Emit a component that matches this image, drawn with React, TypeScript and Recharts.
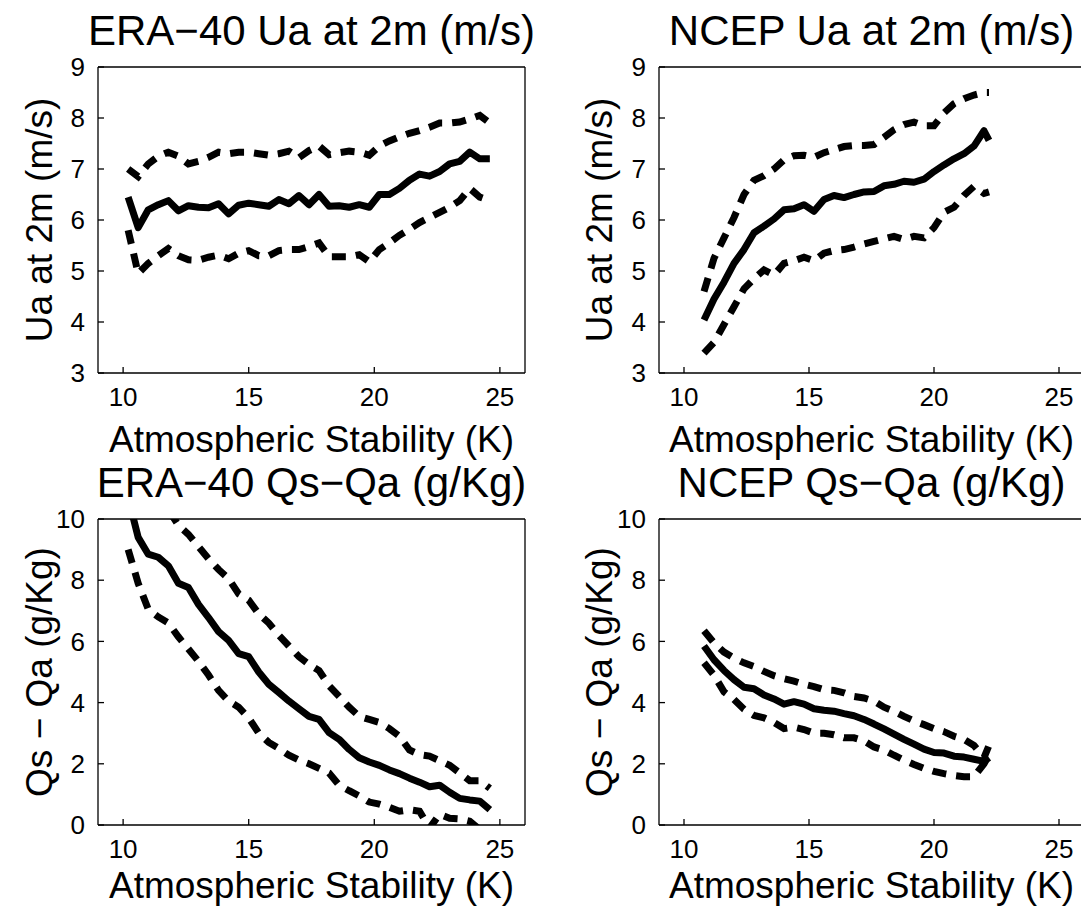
import React from 'react';
import { LineChart, Line, XAxis, YAxis, Label } from 'recharts';

const FONT = '"Liberation Sans", Arial, Helvetica, sans-serif';

// atmospheric stability bins (K)
const eraStability = [
  10.2, 10.6, 11.0, 11.4, 11.8, 12.2, 12.6, 13.0, 13.4, 13.8, 14.2, 14.6, 15.0,
  15.4, 15.8, 16.2, 16.6, 17.0, 17.4, 17.8, 18.2, 18.6, 19.0, 19.4, 19.8, 20.2,
  20.6, 21.0, 21.4, 21.8, 22.2, 22.6, 23.0, 23.4, 23.8, 24.2, 24.6,
];
const ncepStability = [
  10.8, 11.2, 11.6, 12.0, 12.4, 12.8, 13.2, 13.6, 14.0, 14.4, 14.8, 15.2, 15.6,
  16.0, 16.4, 16.8, 17.2, 17.6, 18.0, 18.4, 18.8, 19.2, 19.6, 20.0, 20.4, 20.8,
  21.2, 21.6, 22.0, 22.2,
];

// ERA-40 Ua at 2m (m/s)
const eraUaMean = [
  6.45, 5.85, 6.2, 6.3, 6.38, 6.18, 6.28, 6.25, 6.24, 6.32, 6.12, 6.29, 6.33,
  6.3, 6.27, 6.4, 6.32, 6.48, 6.3, 6.5, 6.27, 6.28, 6.25, 6.3, 6.25, 6.5,
  6.5, 6.62, 6.78, 6.9, 6.86, 6.95, 7.1, 7.15, 7.33, 7.2, 7.2,
];
const eraUaUpper = [
  7.0, 6.85, 7.1, 7.25, 7.33, 7.25, 7.1, 7.15, 7.23, 7.33, 7.3, 7.33, 7.33,
  7.3, 7.27, 7.3, 7.35, 7.22, 7.36, 7.45, 7.28, 7.32, 7.35, 7.33, 7.27, 7.45,
  7.55, 7.63, 7.7, 7.75, 7.82, 7.9, 7.9, 7.92, 7.98, 8.05, 7.9,
];
const eraUaLower = [
  5.8, 4.95, 5.15, 5.3, 5.44, 5.3, 5.22, 5.21, 5.27, 5.31, 5.24, 5.35, 5.4,
  5.3, 5.3, 5.4, 5.42, 5.42, 5.48, 5.55, 5.28, 5.28, 5.28, 5.32, 5.18, 5.42,
  5.55, 5.7, 5.82, 5.95, 6.05, 6.15, 6.25, 6.38, 6.62, 6.45, 6.38,
];

// NCEP Ua at 2m (m/s)
const ncepUaMean = [
  4.04, 4.45, 4.78, 5.15, 5.42, 5.75, 5.88, 6.02, 6.2, 6.22, 6.3, 6.17, 6.4,
  6.48, 6.44, 6.5, 6.55, 6.56, 6.67, 6.7, 6.76, 6.74, 6.8, 6.95, 7.08, 7.2,
  7.3, 7.45, 7.75, 7.56,
];
const ncepUaUpper = [
  4.6, 5.25, 5.65, 6.05, 6.5, 6.78, 6.87, 7.0, 7.18, 7.26, 7.27, 7.23, 7.32,
  7.38, 7.44, 7.46, 7.46, 7.48, 7.62, 7.77, 7.87, 7.92, 7.85, 7.85, 8.1, 8.28,
  8.38, 8.45, 8.5, 8.5,
];
const ncepUaLower = [
  3.39, 3.6, 3.95, 4.3, 4.65, 4.85, 5.02, 4.92, 5.15, 5.2, 5.27, 5.2, 5.35,
  5.4, 5.42, 5.47, 5.53, 5.58, 5.63, 5.68, 5.62, 5.68, 5.65, 5.85, 6.15, 6.25,
  6.48, 6.66, 6.52, 6.55,
];

// ERA-40 Qs-Qa (g/Kg)
const eraQMean = [
  10.7, 9.4, 8.85, 8.75, 8.47, 7.9, 7.76, 7.21, 6.78, 6.32, 6.03, 5.6, 5.5,
  5.0, 4.6, 4.33, 4.05, 3.8, 3.55, 3.45, 3.02, 2.8, 2.47, 2.2, 2.06, 1.95,
  1.8, 1.68, 1.53, 1.4, 1.25, 1.3, 1.07, 0.87, 0.82, 0.78, 0.5,
];
const eraQUpper = [
  12.2, 11.7, 11.2, 10.8, 10.3, 9.8, 9.5, 9.1, 8.7, 8.35, 8.05, 7.55, 7.35,
  6.9, 6.6, 6.2, 5.85, 5.5, 5.25, 5.05, 4.55, 4.2, 3.85, 3.55, 3.45, 3.35,
  3.15, 2.9, 2.45, 2.3, 2.25, 2.1, 1.95, 1.7, 1.45, 1.45, 1.2,
];
const eraQLower = [
  9.0, 7.9, 7.05, 6.8, 6.6, 6.15, 5.75, 5.35, 4.9, 4.4, 4.05, 3.85, 3.5,
  3.0, 2.7, 2.5, 2.28, 2.12, 2.0, 1.85, 1.7, 1.3, 1.12, 0.95, 0.75, 0.68,
  0.58, 0.45, 0.5, 0.45, -0.1, 0.35, 0.22, 0.2, 0.12, -0.15, -0.3,
];

// NCEP Qs-Qa (g/Kg)
const ncepQMean = [
  5.85, 5.4, 5.05, 4.75, 4.5, 4.45, 4.25, 4.12, 3.95, 4.03, 3.95, 3.8, 3.75,
  3.72, 3.64, 3.57, 3.45, 3.3, 3.14, 2.97, 2.8, 2.64, 2.48, 2.37, 2.35, 2.25,
  2.22, 2.15, 2.08, 2.2,
];
const ncepQUpper = [
  6.35, 5.95, 5.65, 5.45, 5.3, 5.18, 5.02, 4.88, 4.78, 4.7, 4.6, 4.52, 4.42,
  4.4, 4.32, 4.2, 4.15, 4.05, 3.85, 3.72, 3.55, 3.4, 3.28, 3.15, 3.05, 2.9,
  2.8, 2.6, 2.2, 2.6,
];
const ncepQLower = [
  5.3, 4.9, 4.35, 4.1, 3.78, 3.58, 3.5, 3.35, 3.15, 3.2, 3.12, 3.0, 3.0,
  2.95, 2.85, 2.85, 2.75, 2.55, 2.45, 2.28, 2.12, 1.98, 1.85, 1.75, 1.68, 1.62,
  1.58, 1.58, 2.0, 2.3,
];

const stabilityTicks = [10, 15, 20, 25];
const uaTicks = [3, 4, 5, 6, 7, 8, 9];
const qTicks = [0, 2, 4, 6, 8, 10];

const tickStyle = { fontSize: 26, fill: '#000', fontFamily: FONT };
const frame = { stroke: '#000', strokeWidth: 1.3 };

const titleContent = (text: string) => (props: any) => {
  const vb = props.viewBox || {};
  return (
    <text x={vb.x + vb.width / 2} y={vb.y + vb.height - 22} textAnchor="middle"
      fontSize={42} fontFamily={FONT} fill="#000">{text}</text>
  );
};

const xLabelContent = (text: string, offset: number) => (props: any) => {
  const vb = props.viewBox || {};
  return (
    <text x={vb.x + vb.width / 2} y={vb.y + offset} textAnchor="middle"
      fontSize={37} fontFamily={FONT} fill="#000">{text}</text>
  );
};

const yLabelContent = (text: string) => (props: any) => {
  const vb = props.viewBox || {};
  const cx = vb.x + 52;
  const cy = vb.y + vb.height / 2;
  return (
    <text x={cx} y={cy} transform={`rotate(-90 ${cx} ${cy})`} textAnchor="middle"
      fontSize={37} fontFamily={FONT} fill="#000">{text}</text>
  );
};

interface PanelProps {
  title: string;
  yLabel: string;
  x: number[];
  mean: number[];
  upper: number[];
  lower: number[];
  yDomain: [number, number];
  yTicks: number[];
  left: number;
  top: number;
  height: number;
  marginTop: number;
  marginRight: number;
  yAxisWidth: number;
  xAxisHeight: number;
  xLabelOffset: number;
}

function Panel(p: PanelProps) {
  const data = p.x.map((v, i) => ({ x: v, mean: p.mean[i], upper: p.upper[i], lower: p.lower[i] }));
  const dashed = { stroke: '#000', strokeWidth: 7, strokeDasharray: '14 10', dot: false, isAnimationActive: false } as const;
  return (
    <div style={{ position: 'absolute', left: p.left, top: p.top }}>
      <LineChart width={540} height={p.height} data={data}
        margin={{ top: p.marginTop, right: p.marginRight, bottom: 0, left: 0 }}>
        <XAxis xAxisId="b" dataKey="x" type="number" domain={[9, 26]} ticks={stabilityTicks}
          interval={0} allowDataOverflow orientation="bottom" height={p.xAxisHeight}
          tickSize={-6} tickMargin={21} tick={tickStyle} axisLine={frame} tickLine={frame}>
          <Label content={xLabelContent('Atmospheric Stability (K)', p.xLabelOffset)} />
        </XAxis>
        <XAxis xAxisId="t" dataKey="x" type="number" domain={[9, 26]} ticks={stabilityTicks}
          interval={0} allowDataOverflow orientation="top" height={1}
          tickSize={-6} tick={false} axisLine={frame} tickLine={frame}>
          <Label content={titleContent(p.title)} />
        </XAxis>
        <YAxis yAxisId="l" type="number" domain={p.yDomain} ticks={p.yTicks} interval={0}
          allowDataOverflow orientation="left" width={p.yAxisWidth}
          tickSize={-6} tickMargin={19} tick={tickStyle} axisLine={frame} tickLine={frame}>
          <Label content={yLabelContent(p.yLabel)} />
        </YAxis>
        <YAxis yAxisId="r" type="number" domain={p.yDomain} ticks={p.yTicks} interval={0}
          allowDataOverflow orientation="right" width={1}
          tickSize={-6} tick={false} axisLine={frame} tickLine={frame} />
        <Line xAxisId="b" yAxisId="l" type="linear" dataKey="upper" {...dashed} />
        <Line xAxisId="b" yAxisId="l" type="linear" dataKey="lower" {...dashed} />
        <Line xAxisId="b" yAxisId="l" type="linear" dataKey="mean" stroke="#000" strokeWidth={7}
          strokeLinejoin="round" dot={false} isAnimationActive={false} />
        <Line xAxisId="t" yAxisId="r" type="linear" dataKey="mean" stroke="none" dot={false}
          activeDot={false} legendType="none" isAnimationActive={false} />
      </LineChart>
    </div>
  );
}

export default function App() {
  return (
    <div style={{ position: 'absolute', left: 0, top: 0, width: 1081, height: 908, overflow: 'hidden', background: '#fff' }}>
      <Panel title="ERA−40 Ua at 2m (m/s)" yLabel="Ua at 2m (m/s)" x={eraStability}
        mean={eraUaMean} upper={eraUaUpper} lower={eraUaLower} yDomain={[3, 9]} yTicks={uaTicks}
        left={0} top={0} height={460} marginTop={66} marginRight={14} yAxisWidth={98}
        xAxisHeight={87} xLabelOffset={79} />
      <Panel title="NCEP Ua at 2m (m/s)" yLabel="Ua at 2m (m/s)" x={ncepStability}
        mean={ncepUaMean} upper={ncepUaUpper} lower={ncepUaLower} yDomain={[3, 9]} yTicks={uaTicks}
        left={560} top={0} height={460} marginTop={66} marginRight={15} yAxisWidth={99}
        xAxisHeight={87} xLabelOffset={79} />
      <Panel title="ERA−40 Qs−Qa (g/Kg)" yLabel="Qs − Qa (g/Kg)" x={eraStability}
        mean={eraQMean} upper={eraQUpper} lower={eraQLower} yDomain={[0, 10]} yTicks={qTicks}
        left={0} top={460} height={448} marginTop={58} marginRight={14} yAxisWidth={98}
        xAxisHeight={83} xLabelOffset={73} />
      <Panel title="NCEP Qs−Qa (g/Kg)" yLabel="Qs − Qa (g/Kg)" x={ncepStability}
        mean={ncepQMean} upper={ncepQUpper} lower={ncepQLower} yDomain={[0, 10]} yTicks={qTicks}
        left={560} top={460} height={448} marginTop={58} marginRight={15} yAxisWidth={99}
        xAxisHeight={83} xLabelOffset={73} />
    </div>
  );
}
